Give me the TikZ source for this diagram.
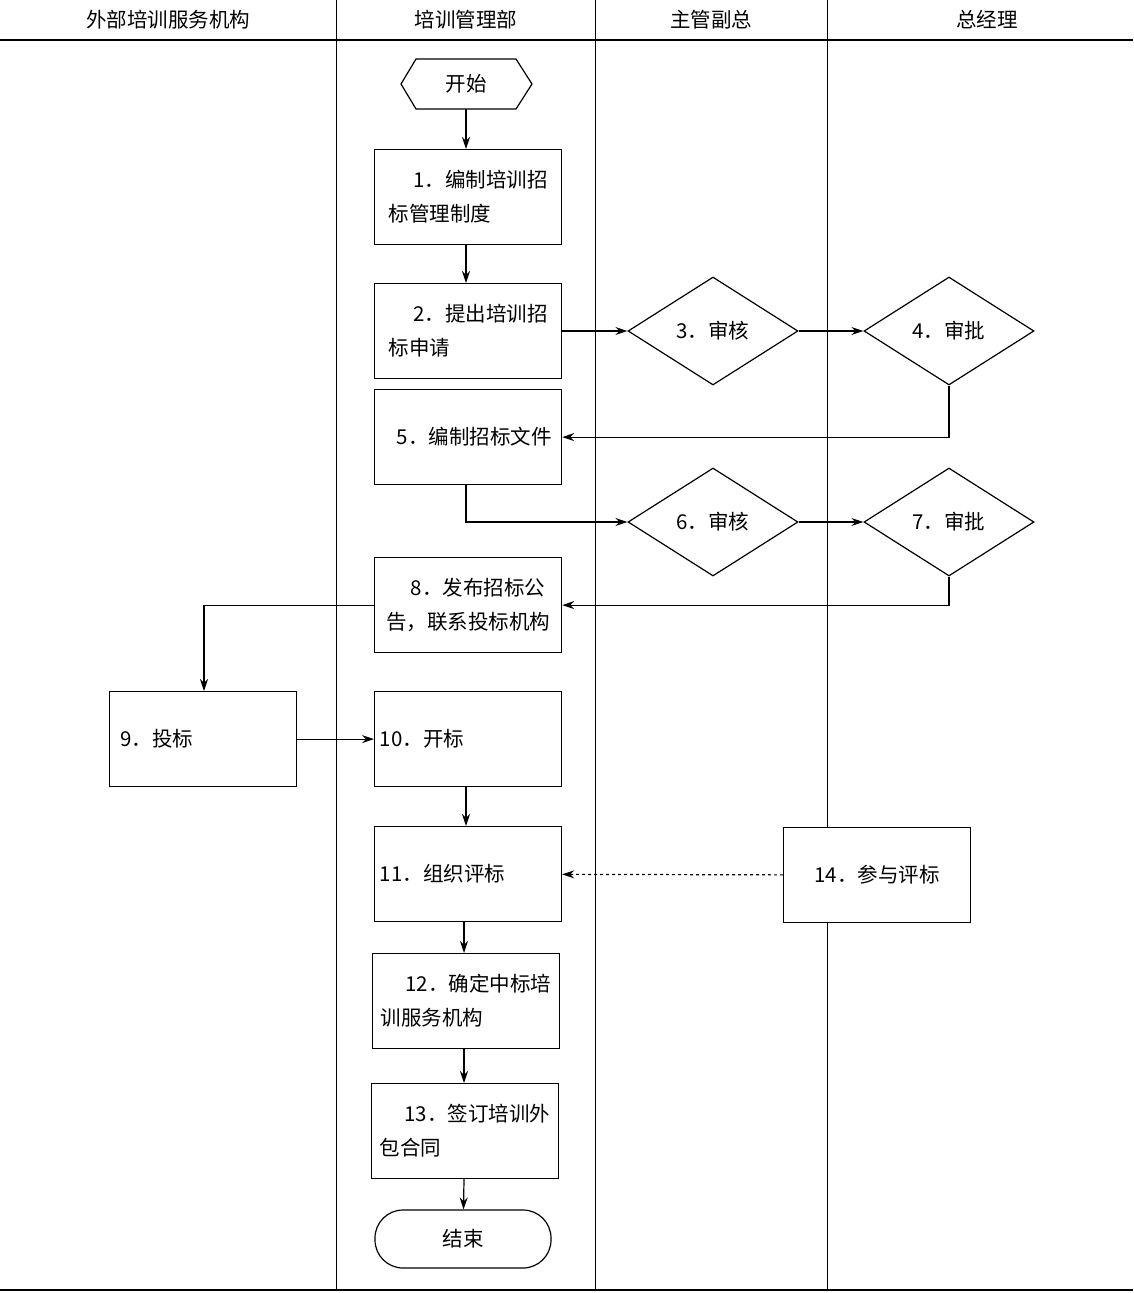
\documentclass[tikz,border=0pt]{standalone}
\usepackage{fontspec}
\setmainfont{Noto Sans CJK SC}
\usetikzlibrary{shapes.geometric,arrows.meta}
\begin{document}
\begin{tikzpicture}[x=1pt,y=-1pt,
  every node/.style={font=\fontsize{20.5}{34}\selectfont},
  box/.style={draw,line width=1.2pt,fill=white,minimum width=187pt,minimum height=95pt,anchor=north west,inner sep=2pt},
  dia/.style={draw,line width=1.2pt,diamond,aspect=1.58,minimum width=170pt,minimum height=108pt,inner sep=0pt},
  arr/.style={line width=1.2pt,-{Stealth[length=12pt,width=8pt]}},
  lane/.style={line width=1pt}]
\useasboundingbox (0,0) rectangle (1133,1293);
\fill[white] (0,0) rectangle (1133,1293);
\draw[line width=1.5pt] (0,40) -- (1133,40);
\draw[line width=2pt] (0,1290) -- (1133,1290);
\draw[lane] (336,0) -- (336,1290);
\draw[lane] (595,0) -- (595,1290);
\draw[lane] (827,0) -- (827,1290);
\node (h1) at (168,20) {外部培训服务机构};
\node (h2) at (466,20) {培训管理部};
\node (h3) at (711,20) {主管副总};
\node (h4) at (987,20) {总经理};
\node[minimum width=130pt,minimum height=50pt,inner sep=0pt] (s) at (466,84) {开始};
\draw[line width=1.2pt] (401,84) -- (416,59) -- (516,59) -- (532,84) -- (516,109) -- (416,109) -- cycle;
\node[box,align=left] (b1) at (374,149) {\hspace*{1.2em}1．编制培训招\\标管理制度\hspace*{2em}};
\node[box,align=left] (b2) at (374,283) {\hspace*{1.2em}2．提出培训招\\标申请\hspace*{4em}};
\node[dia] (d3) at (713,331) {3．审核};
\node[dia] (d4) at (949,331) {4．审批};
\node[box] (b5) at (374,389) {\hspace*{0.6em}5．编制招标文件};
\node[dia] (d6) at (713,522) {6．审核};
\node[dia] (d7) at (949,522) {7．审批};
\node[box,align=left] (b8) at (374,557) {\hspace*{1.2em}8．发布招标公\\告，联系投标机构};
\node[box,align=left] (b9) at (109,691) {9．投标\hspace*{4.5em}};
\node[box,align=left] (b10) at (374,691) {10．开标\hspace*{4.5em}};
\node[box,align=left] (b11) at (374,826) {11．组织评标\hspace*{2.5em}};
\node[box,align=left] (b12) at (372,953) {\hspace*{1.2em}12．确定中标培\\训服务机构\hspace*{2em}};
\node[box,align=left] (b13) at (371,1083) {\hspace*{1.2em}13．签订培训外\\包合同\hspace*{4em}};
\node[draw,line width=1.2pt,rounded corners=28pt,minimum width=176pt,minimum height=58pt] (e) at (463,1239) {结束};
\node[box] (b14) at (783,827) {14．参与评标};
\draw[arr] (s) -- (b1.north-|466,0);
\draw[arr] (b1.south-|466,0) -- (b2.north-|466,0);
\draw[arr] (b2.east|-d3) -- (d3);
\draw[arr] (d3) -- (d4);
\draw[arr] (d4.south) |- (b5.east);
\draw[arr] (b5.south-|466,0) |- (d6.west);
\draw[arr] (d6) -- (d7);
\draw[arr] (d7.south) |- (b8.east);
\draw[arr] (b8.west) -| (b9.north-|204,0);
\draw[arr] (b9) -- (b10);
\draw[arr] (b10.south-|466,0) -- (b11.north-|466,0);
\draw[arr] (b11.south-|464,0) -- (b12.north-|464,0);
\draw[arr] (b12.south-|464,0) -- (b13.north-|464,0);
\draw[arr] (b13.south-|464,0) -- (e);
\draw[arr,dashed] (b14) -- (b11);
\end{tikzpicture}
\end{document}
